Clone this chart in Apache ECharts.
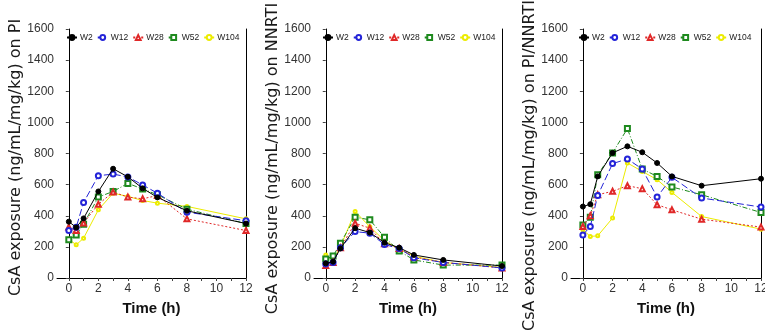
<!DOCTYPE html>
<html>
<head>
<meta charset="utf-8">
<script src="https://cdn.jsdelivr.net/npm/echarts@6/dist/echarts.min.js"></script>
<style>
html,body{margin:0;padding:0;background:#fff;}
#chart{width:765px;height:335px;}
</style>
</head>
<body>
<div id="chart"></div>
<script>
// ---- data ----
var times = [0, 0.5, 1, 2, 3, 4, 5, 6, 8, 12];
var seriesNames = ['W2', 'W12', 'W28', 'W52', 'W104'];
var xTickLabels = [0, 2, 4, 6, 8, 10, 12];
var xTickMarks = [0, 1, 2, 3, 4, 5, 6, 7, 8, 9, 10, 11, 12];
var panelTitles = [
  'CsA exposure (ng/mL/mg/kg) on PI',
  'CsA exposure (ng/mL/mg/kg) on NNRTI',
  'CsA exposure (ng/mL/mg/kg) on PI/NNRTI'
];
var xTitle = 'Time (h)';

// Panel 1: PI
var pi_W2   = [362, 325, 383, 556, 702, 650, 576, 518, 432, 350];
var pi_W12  = [305, 326, 485, 657, 668, 649, 598, 545, 423, 368];
var pi_W28  = [327, 305, 353, 474, 552, 520, 509, 530, 380, 305];
var pi_W52  = [245, 277, 346, 520, 556, 608, 572, 535, 442, 350];
var pi_W104 = [249, 213, 256, 438, 545, 524, 498, 481, 460, 380];

// Panel 2: NNRTI
var nn_W2   = [94, 105, 190, 320, 292, 227, 195, 148, 116, 77];
var nn_W12  = [90, 100, 195, 298, 288, 215, 190, 130, 100, 65];
var nn_W28  = [80, 100, 195, 352, 320, 220, 190, 135, 100, 65];
var nn_W52  = [122, 141, 223, 391, 374, 262, 174, 116, 83, 83];
var nn_W104 = [148, 110, 200, 427, 330, 240, 185, 140, 100, 68];

// Panel 3: PI/NNRTI
var pn_W2   = [459, 474, 653, 804, 846, 808, 739, 653, 593, 638];
var pn_W12  = [277, 331, 530, 735, 765, 700, 520, 647, 514, 456];
var pn_W28  = [331, 400, 535, 557, 593, 574, 471, 438, 378, 327];
var pn_W52  = [341, 390, 664, 804, 960, 700, 653, 585, 535, 421];
var pn_W104 = [310, 267, 271, 385, 739, 685, 632, 550, 395, 314];

var panels = [
  [pi_W2, pi_W12, pi_W28, pi_W52, pi_W104],
  [nn_W2, nn_W12, nn_W28, nn_W52, nn_W104],
  [pn_W2, pn_W12, pn_W28, pn_W52, pn_W104]
];

// ---- styles ----
var styles = [
  {color: '#000000', type: 'solid', symbol: 'circle', size: 5},
  {color: '#2424d8', type: [7, 3], symbol: 'emptyCircle', size: 5},
  {color: '#e02828', type: [2, 2], symbol: 'emptyTriangle', size: 5},
  {color: '#1e8a1e', type: [5, 2, 1, 2], symbol: 'emptyRect', size: 5},
  {color: '#ecec00', type: 'solid', symbol: 'emptyCircle', size: 3}
];

var grids = [
  {left: 57, width: 189, top: 29, height: 249},
  {left: 314, width: 188, top: 29, height: 249},
  {left: 571, width: 190, top: 29, height: 249}
];
var nameGaps = [25, 30, 30];
var titleShift = [8, 10, 24];
var legendLeft = [66, 322, 578];

var sans = 'Arial, "Liberation Sans", sans-serif';

var option = {
  backgroundColor: '#ffffff',
  animation: false,
  grid: grids.map(function (g) { return Object.assign({containLabel: false, outerBoundsMode: 'none'}, g); }),
  legend: legendLeft.map(function (l, i) {
    return {
      data: seriesNames, left: l, top: 33, width: 200, orient: 'horizontal',
      itemWidth: 10, itemHeight: 6, itemGap: 4,
      textStyle: {fontSize: 8.5, color: '#222', fontFamily: sans, padding: [0, 0, 0, -2]},
      padding: 0
    };
  }),
  xAxis: grids.map(function (g, i) {
    return {
      type: 'value', gridIndex: i, min: -0.8, max: 12,
      name: xTitle, nameLocation: 'middle', nameGap: 23,
      nameTextStyle: {fontSize: 15, fontWeight: 'bold', color: '#111', fontFamily: sans},
      axisLine: {lineStyle: {color: '#000', width: 1}},
      axisTick: {show: true, length: 3, customValues: xTickMarks, lineStyle: {color: '#444'}},
      axisLabel: {
        margin: 5, fontSize: 12, color: '#333', fontFamily: sans,
        customValues: xTickLabels,
        formatter: function (v) { return String(v); }
      },
      splitLine: {show: false}
    };
  }),
  yAxis: [].concat(
    grids.map(function (g, i) {
      return {
        type: 'value', gridIndex: i, min: 0, max: 1600, interval: 200,
        name: panelTitles[i], nameLocation: 'middle', nameGap: nameGaps[i],
        nameTextStyle: {fontSize: 16, color: '#1a1a1a', fontFamily: '"DejaVu Sans", sans-serif',
          padding: [0, titleShift[i], 0, 0]},
        axisLine: {show: true, lineStyle: {color: '#000', width: 1}},
        axisTick: {show: true, length: 3, lineStyle: {color: '#444'}},
        axisLabel: {margin: 3, fontSize: 12, color: '#333', fontFamily: sans,
          formatter: function (v) { return String(v); }},
        splitLine: {show: false}
      };
    }),
    grids.map(function (g, i) {
      return {
        type: 'value', gridIndex: i, position: 'right', min: 0, max: 1600,
        axisLine: {show: true, lineStyle: {color: '#000', width: 1}},
        axisTick: {show: false}, axisLabel: {show: false}, splitLine: {show: false}
      };
    })
  ),
  series: []
};

panels.forEach(function (p, pi) {
  p.forEach(function (vals, si) {
    var st = styles[si];
    option.series.push({
      name: seriesNames[si], type: 'line', xAxisIndex: pi, yAxisIndex: pi,
      data: times.map(function (t, k) { return [t, vals[k]]; }),
      symbol: st.symbol, symbolSize: st.size, showSymbol: true,
      itemStyle: {color: st.color, borderColor: st.color, borderWidth: 1},
      lineStyle: {color: st.color, width: 1, type: st.type},
      z: 10 - si
    });
  });
});

var chart = echarts.init(document.getElementById('chart'), null, {renderer: 'canvas'});
chart.setOption(option);
</script>
</body>
</html>
